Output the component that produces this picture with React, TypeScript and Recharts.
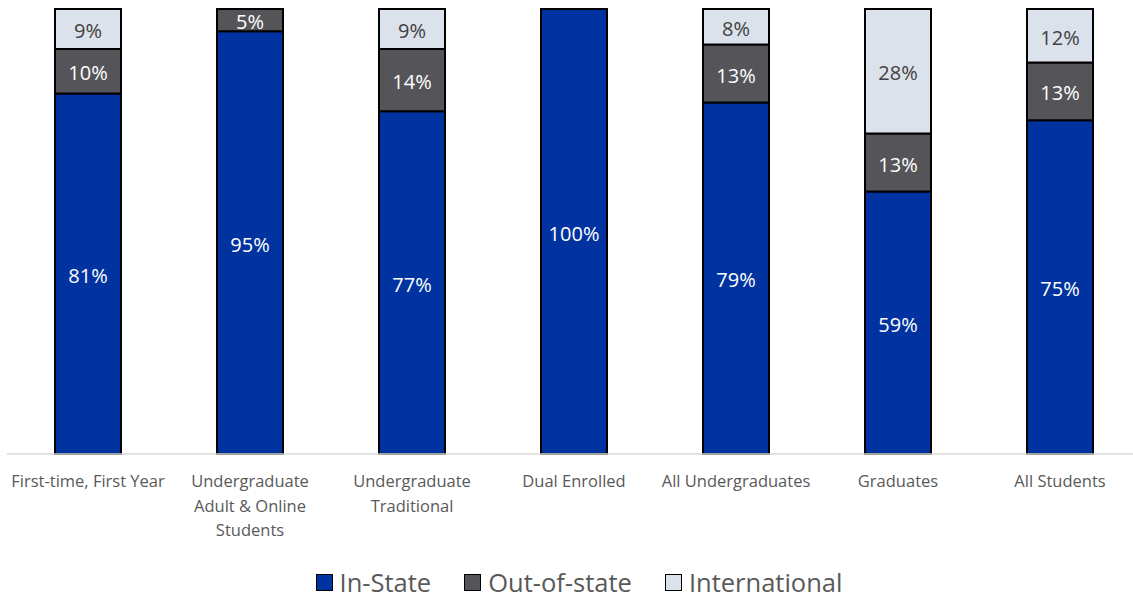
import { BarChart, Bar, XAxis, YAxis, Legend, LabelList } from "recharts";

const categories = [
  "First-time, First Year",
  "Undergraduate Adult & Online Students",
  "Undergraduate Traditional",
  "Dual Enrolled",
  "All Undergraduates",
  "Graduates",
  "All Students",
];

// wrapped tick text, one entry per category
const tickLines = [
  ["First-time, First Year"],
  ["Undergraduate", "Adult & Online", "Students"],
  ["Undergraduate", "Traditional"],
  ["Dual Enrolled"],
  ["All Undergraduates"],
  ["Graduates"],
  ["All Students"],
];

const inState = [81, 95, 77, 100, 79, 59, 75];
const outOfState = [10, 5, 14, 0, 13, 13, 13];
const international = [9, 0, 9, 0, 8, 28, 12];

const SERIES = [
  { key: "inState", name: "In-State", color: "#0033A0", label: "#ffffff" },
  { key: "outOfState", name: "Out-of-state", color: "#555559", label: "#ffffff" },
  { key: "international", name: "International", color: "#DCE2EB", label: "#404040" },
];

const data = categories.map((name, i) => ({
  name,
  inState: inState[i],
  outOfState: outOfState[i],
  international: international[i],
}));

const FONT = "'Open Sans', sans-serif";

function CategoryTick(props: any) {
  const { x, y, index } = props;
  const lines = tickLines[index] ?? [];
  return (
    <g transform={`translate(${x},${y})`}>
      {lines.map((line, i) => (
        <text
          key={i}
          x={0}
          y={25 + i * 24.5}
          textAnchor="middle"
          fontFamily={FONT}
          fontSize={16.5}
          fill="#595959"
        >
          {line}
        </text>
      ))}
    </g>
  );
}

function LegendContent() {
  return (
    <div
      style={{
        display: "flex",
        justifyContent: "center",
        alignItems: "center",
        fontFamily: FONT,
        fontSize: 25.5,
        lineHeight: "32px",
        color: "#595959",
        gap: 33,
        paddingTop: 14,
        paddingLeft: 10,
      }}
    >
      {SERIES.map((s) => (
        <span key={s.key} style={{ display: "flex", alignItems: "center", gap: 7 }}>
          <span
            style={{
              display: "inline-block",
              width: 15,
              height: 15,
              background: s.color,
              border: "1.5px solid #000",
            }}
          />
          {s.name}
        </span>
      ))}
    </div>
  );
}

const pct = (v: any) => (v ? `${v}%` : "");

export default function App() {
  return (
    <div style={{ position: "fixed", left: 0, top: 0, width: 1133, height: 600, overflow: "hidden", background: "#fff" }}>
      <BarChart
        width={1141}
        height={600}
        data={data}
        margin={{ top: 9, right: 0, left: 7, bottom: 0 }}
      >
        <XAxis
          dataKey="name"
          axisLine={{ stroke: "#d9d9d9", strokeWidth: 1.5 }}
          tickLine={false}
          interval={0}
          height={98}
          tick={<CategoryTick />}
        />
        <YAxis hide domain={[0, 100]} />
        <Legend verticalAlign="bottom" height={48} content={<LegendContent />} />
        {SERIES.map((s) => (
          <Bar
            key={s.key}
            dataKey={s.key}
            name={s.name}
            stackId="a"
            fill={s.color}
            stroke="#000"
            strokeWidth={2}
            barSize={66}
            isAnimationActive={false}
          >
            <LabelList
              dataKey={s.key}
              position="center"
              formatter={pct}
              fill={s.label}
              fontFamily={FONT}
              fontSize={20}
              dy={2}
            />
          </Bar>
        ))}
      </BarChart>
    </div>
  );
}
